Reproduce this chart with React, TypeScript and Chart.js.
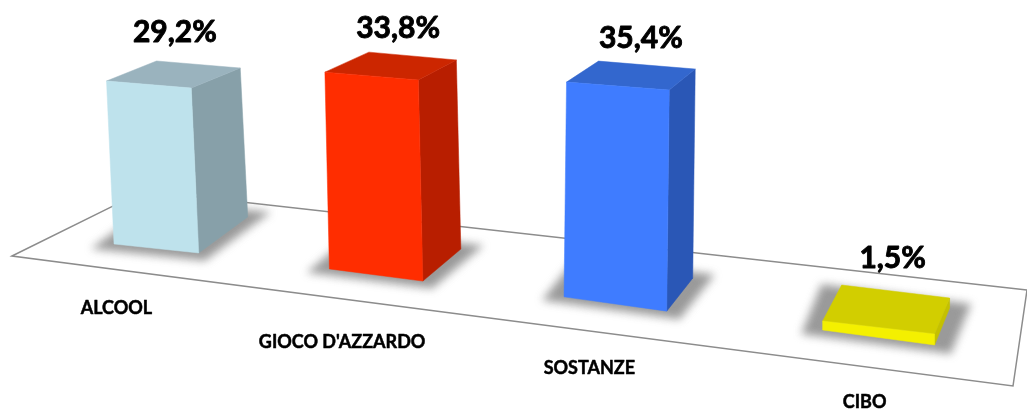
import React, { useEffect, useRef } from "react";
import { Chart, registerables } from "chart.js";

Chart.register(...registerables);

// Share of each addiction type, in percent.
const categories = ["ALCOOL", "GIOCO D'AZZARDO", "SOSTANZE", "CIBO"];
const percentages = [29.2, 33.8, 35.4, 1.5];

// Face colours of each box.
const frontColors = ["#BEE2EC", "#FF2D00", "#3F7CFF", "#F4F000"];
const roofColors = ["#9AB3BE", "#CC2600", "#3367CE", "#D2CE00"];
const sideColors = ["#87A0A9", "#B81E00", "#2A57B6", "#C4C000"];

// Perspective of the tilted floor, one entry per category.
const floorShiftX = [28, -9, -26.5, -20];
const floorShiftY = [-165.5, -139, -110, -76.5];
const heightGain = [0.936, 0.981, 1.026, 1.11];
const widthGain = [0.825, 0.91, 1.0, 1.09];
const footSlope = [0.106, 0.13, 0.139, 0.134];
const roofSlope = [0.083, 0.084, 0.077, 0.116];
const lean = [-7.5, -4.5, 2.5, 0];
const depthLeftX = [50, 44, 32, 19];
const depthRightX = [49, 38, 26, 15];
const depthFootY = [-36, -32, -33, -37];
const depthRoofY = [-20, -20, -21, -36];
const valueLabelShift = [[1.5, -42], [7.5, -38], [10, -37], [6.5, -51]];
const categoryLabelShift = [[-40, 60], [-34, 67], [-26, 64], [-14, 65]];

// Outline of the floor plane.
const floorOutline = [[12, 256], [143.6, 190.9], [1027, 290], [1013, 386]];

type Pt = [number, number];

function fillPoly(ctx: CanvasRenderingContext2D, pts: Pt[], color: string) {
  ctx.beginPath();
  pts.forEach((p, i) => (i ? ctx.lineTo(p[0], p[1]) : ctx.moveTo(p[0], p[1])));
  ctx.closePath();
  ctx.fillStyle = color;
  ctx.fill();
  ctx.strokeStyle = color;
  ctx.lineWidth = 0.5;
  ctx.stroke();
}

// Projects a bar element laid out by the scales onto the tilted floor.
function boxGeometry(el: any, i: number) {
  const footX = el.x + floorShiftX[i];
  const footY = el.base + floorShiftY[i];
  const h = (el.base - el.y) * heightGain[i];
  const half = (el.width * widthGain[i]) / 2;
  const roofX = footX + lean[i];
  const roofY = footY - h;
  const bl: Pt = [footX - half, footY - half * footSlope[i]];
  const br: Pt = [footX + half, footY + half * footSlope[i]];
  const tl: Pt = [roofX - half, roofY - half * roofSlope[i]];
  const tr: Pt = [roofX + half, roofY + half * roofSlope[i]];
  const backL: Pt = [tl[0] + depthLeftX[i], tl[1] + depthRoofY[i]];
  const backR: Pt = [tr[0] + depthRightX[i], tr[1] + depthRoofY[i]];
  const footBackR: Pt = [br[0] + depthRightX[i], br[1] + depthFootY[i]];
  const footBackL: Pt = [bl[0] + depthRightX[i], bl[1] + depthFootY[i]];
  return { bl, br, tl, tr, backL, backR, footBackR, footBackL, footX, footY };
}

// Bold text with a thin outline of its own colour, for a heavier weight.
function heavyText(ctx: CanvasRenderingContext2D, text: string, x: number, y: number, outline: number) {
  ctx.lineWidth = outline;
  ctx.lineJoin = "round";
  ctx.strokeStyle = "#000000";
  ctx.strokeText(text, x, y);
  ctx.fillText(text, x, y);
}

const box3dPlugin = {
  id: "box3d",
  beforeDatasetsDraw(chart: any) {
    const { ctx } = chart;
    const bars = chart.getDatasetMeta(0).data;
    ctx.save();
    ctx.beginPath();
    floorOutline.forEach((p, i) => (i ? ctx.lineTo(p[0], p[1]) : ctx.moveTo(p[0], p[1])));
    ctx.closePath();
    ctx.strokeStyle = "#8C8C8C";
    ctx.lineWidth = 1.5;
    ctx.stroke();

    // Soft contact shadow around every footprint.
    ctx.filter = "blur(4px)";
    bars.forEach((el: any, i: number) => {
      const g = boxGeometry(el, i);
      const corners = [g.bl, g.br, g.footBackR, g.footBackL];
      const cx = corners.reduce((s, p) => s + p[0], 0) / 4;
      const cy = corners.reduce((s, p) => s + p[1], 0) / 4;
      const grown = corners.map((p) => [cx + (p[0] - cx) * 1.33, cy + (p[1] - cy) * 1.33] as Pt);
      fillPoly(ctx, grown, "#9A9A9A");
    });
    ctx.restore();
  },
  beforeDatasetDraw(chart: any) {
    const { ctx } = chart;
    chart.getDatasetMeta(0).data.forEach((el: any, i: number) => {
      const g = boxGeometry(el, i);
      fillPoly(ctx, [g.tr, g.backR, g.footBackR, g.br], sideColors[i]);
      fillPoly(ctx, [g.tl, g.tr, g.backR, g.backL], roofColors[i]);
      fillPoly(ctx, [g.tl, g.tr, g.br, g.bl], frontColors[i]);
    });
    // The boxes above replace the flat rectangles.
    return false;
  },
  afterDatasetsDraw(chart: any) {
    const { ctx } = chart;
    ctx.save();
    ctx.textAlign = "center";
    ctx.textBaseline = "middle";
    ctx.fillStyle = "#000000";
    chart.getDatasetMeta(0).data.forEach((el: any, i: number) => {
      const g = boxGeometry(el, i);
      const roofCx = (g.tl[0] + g.backR[0]) / 2;
      const roofCy = (g.tl[1] + g.backR[1]) / 2;
      ctx.font = "bold 30px Lato";
      heavyText(
        ctx,
        percentages[i].toFixed(1).replace(".", ",") + "%",
        roofCx + valueLabelShift[i][0],
        roofCy + valueLabelShift[i][1],
        0.9
      );
      ctx.font = "bold 18px Lato";
      heavyText(ctx, categories[i], g.footX + categoryLabelShift[i][0], g.footY + categoryLabelShift[i][1], 0.5);
    });
    ctx.restore();
  },
};

export default function App() {
  const canvasRef = useRef<HTMLCanvasElement>(null);

  useEffect(() => {
    const chart = new Chart(canvasRef.current!, {
      type: "bar",
      data: {
        labels: categories,
        datasets: [
          {
            data: percentages,
            backgroundColor: frontColors,
            categoryPercentage: 1,
            barPercentage: 0.4,
          },
        ],
      },
      options: {
        responsive: false,
        animation: false,
        layout: { padding: 0 },
        plugins: { legend: { display: false }, tooltip: { enabled: false } },
        scales: {
          x: { display: false },
          y: { display: false, min: 0, max: 69 },
        },
      },
      plugins: [box3dPlugin],
    });
    return () => chart.destroy();
  }, []);

  return (
    <div style={{ position: "fixed", left: 0, top: 0, width: 1027, height: 414, background: "#fff" }}>
      <canvas ref={canvasRef} width={1027} height={414} style={{ display: "block" }} />
    </div>
  );
}
